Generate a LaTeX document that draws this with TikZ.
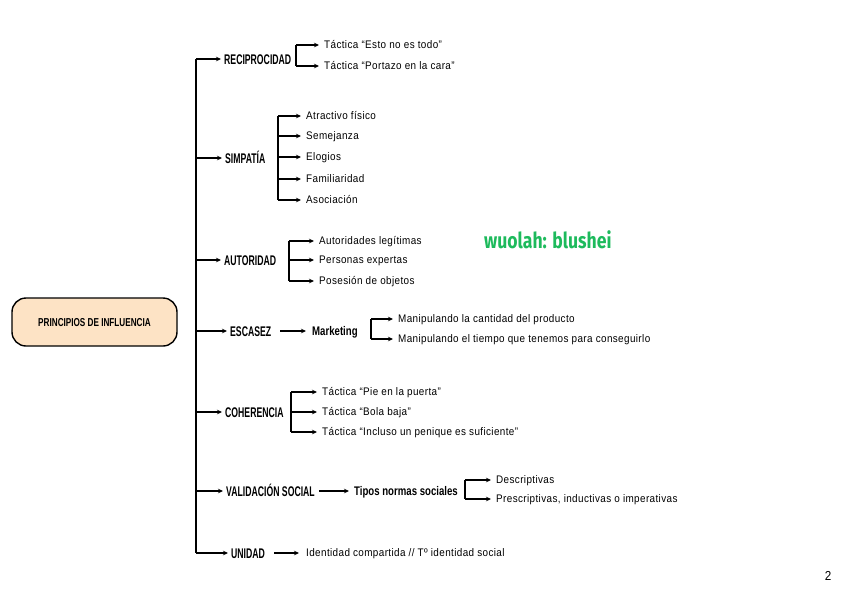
\documentclass[tikz,border=0pt]{standalone}
\usepackage{fontspec}
\setmainfont{Liberation Sans}
\newfontfamily\lblfont[FakeStretch=0.62]{Liberation Sans Bold}
\newfontfamily\rootfont[FakeStretch=0.71]{Liberation Sans Bold}
\newfontfamily\midfont[FakeStretch=0.77]{Liberation Sans Bold}
\newfontfamily\smfont[FakeStretch=0.9,LetterSpace=3.5]{Liberation Sans}
\newfontfamily\wmfont[FakeStretch=0.8]{Fira Sans}
\usetikzlibrary{arrows.meta}
\definecolor{peach}{HTML}{FDE3C5}
\definecolor{wgreen}{HTML}{1DBA5C}
\tikzset{
  ln/.style={line width=1.4pt},
  arr/.style={line width=1.4pt,-{Stealth[length=5pt,width=4.5pt]}},
  lbl/.style={anchor=west,inner sep=0pt,text height=10pt,text depth=0pt,font=\lblfont\fontsize{14}{14}\selectfont},
  mid/.style={anchor=west,inner sep=0pt,text height=9pt,text depth=0pt,font=\midfont\fontsize{12.5}{13}\selectfont},
  sm/.style={anchor=west,inner sep=0pt,text height=7.9pt,text depth=0pt,font=\smfont\fontsize{11}{12}\selectfont},
}
\begin{document}
\begin{tikzpicture}[x=1pt,y=-1pt]
\useasboundingbox (0,0) rectangle (848,600);
% root
\node[draw,line width=1.4pt,fill=peach,rounded corners=14pt,minimum width=165pt,minimum height=48pt,inner sep=0pt,text height=8.2pt,text depth=0pt,font=\rootfont\fontsize{11.5}{12}\selectfont] (root) at (94.5,322) {PRINCIPIOS DE INFLUENCIA};
% trunk
\coordinate (ttop) at (196,59);
\coordinate (tbot) at (196,553);
\draw[ln] (ttop) -- (tbot);
% main labels
\node[lbl] (rec) at (224,59) {RECIPROCIDAD};
\node[lbl] (sim) at (225,158) {SIMPATÍA};
\node[lbl] (aut) at (224,260) {AUTORIDAD};
\node[lbl] (esc) at (230,331) {ESCASEZ};
\node[lbl] (coh) at (225,412) {COHERENCIA};
\node[lbl] (val) at (226,491) {VALIDACIÓN SOCIAL};
\node[lbl] (uni) at (231,553) {UNIDAD};
\foreach \n/\y in {rec/59,sim/158,aut/260,esc/331,coh/412,val/491,uni/553}{
  \coordinate (t\n) at (196,\y);
  \draw[arr] (t\n) -- ([xshift=-3pt]\n.west);
}
% second level
\node[mid] (mkt) at (312,331) {Marketing};
\draw[arr] ([xshift=9pt]esc.east) -- ([xshift=-6pt]mkt.west);
\node[mid] (tip) at (354,491) {Tipos normas sociales};
\draw[arr] ([xshift=4pt]val.east) -- ([xshift=-5pt]tip.west);
\node[sm] (ide) at (306,553) {Identidad compartida // Tº identidad social};
\draw[arr] ([xshift=9pt]uni.east) -- ([xshift=-7pt]ide.west);
% leaves
\node[sm] (r1) at (324,45) {Táctica “Esto no es todo”};
\node[sm] (r2) at (324,66) {Táctica “Portazo en la cara”};
\node[sm] (s1) at (306,116) {Atractivo físico};
\node[sm] (s2) at (306,136) {Semejanza};
\node[sm] (s3) at (306,157) {Elogios};
\node[sm] (s4) at (306,179) {Familiaridad};
\node[sm] (s5) at (306,200) {Asociación};
\node[sm] (a1) at (319,241) {Autoridades legítimas};
\node[sm] (a2) at (319,260) {Personas expertas};
\node[sm] (a3) at (319,281) {Posesión de objetos};
\node[sm] (m1) at (398,319) {Manipulando la cantidad del producto};
\node[sm] (m2) at (398,339) {Manipulando el tiempo que tenemos para conseguirlo};
\node[sm] (c1) at (322,392) {Táctica “Pie en la puerta”};
\node[sm] (c2) at (322,412) {Táctica “Bola baja”};
\node[sm] (c3) at (322,432) {Táctica “Incluso un penique es suficiente”};
\node[sm] (v1) at (496,480) {Descriptivas};
\node[sm] (v2) at (496,499) {Prescriptivas, inductivas o imperativas};
% brackets
\newcommand{\brk}[4]{% x, top, bottom, list of leaves
  \coordinate (b1) at (#1,#2); \coordinate (b2) at (#1,#3);
  \draw[ln] (b1) -- (b2);
  \foreach \l in {#4}{ \draw[arr] (#1,0 |- \l.west) -- ([xshift=-5pt]\l.west); }
}
\brk{296}{45}{66}{r1,r2}
\brk{278}{116}{200}{s1,s2,s3,s4,s5}
\brk{289}{241}{281}{a1,a2,a3}
\brk{371}{319}{339}{m1,m2}
\brk{291}{392}{432}{c1,c2,c3}
\brk{465}{480}{499}{v1,v2}
% watermark and page number
\node[anchor=west,inner sep=0pt,text=wgreen,font=\wmfont\bfseries\fontsize{22}{22}\selectfont] (wm) at (484,240) {wuolah: blushei};
\node[inner sep=0pt,font=\smfont\fontsize{13}{13}\selectfont] (pg) at (828,576) {2};
\end{tikzpicture}
\end{document}
